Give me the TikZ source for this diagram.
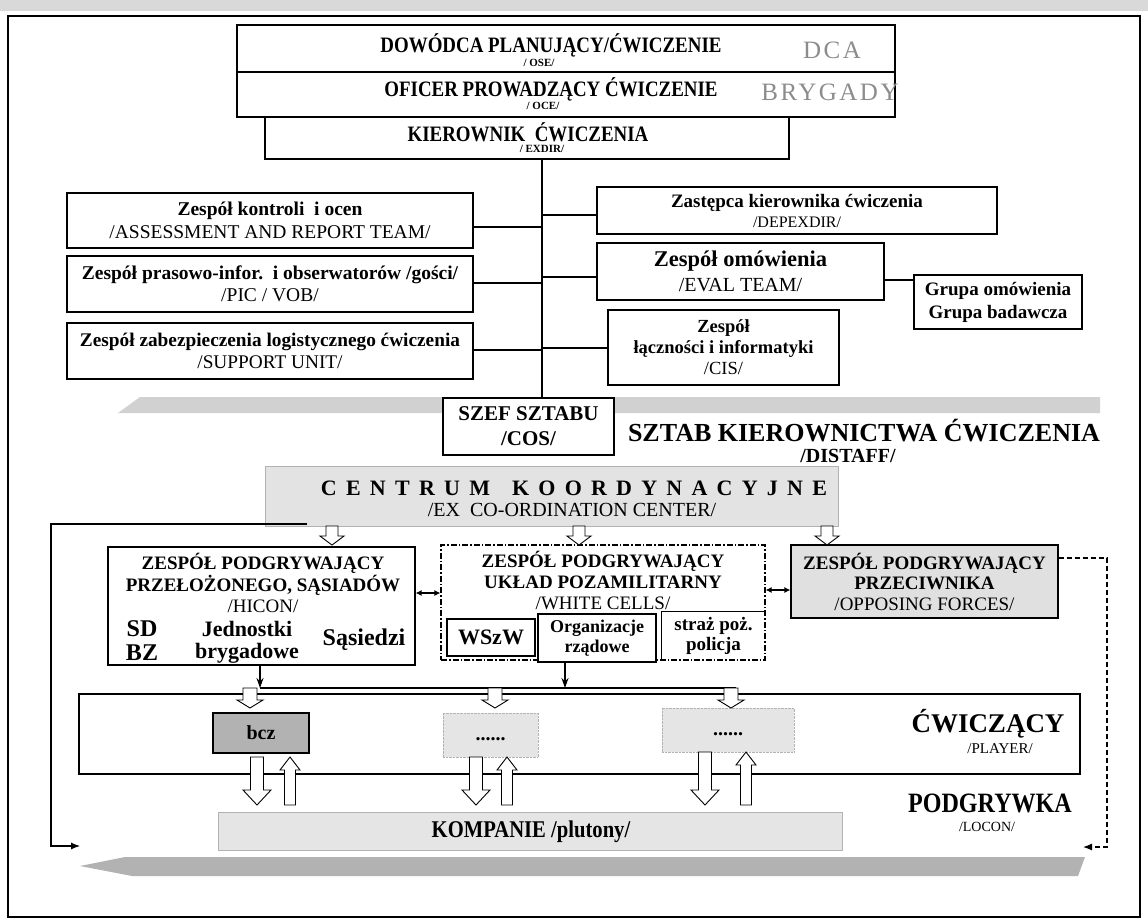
\documentclass[tikz,border=0pt]{standalone}
\usepackage{fontspec}
\setmainfont{Liberation Serif}
\newfontfamily\cnd[FakeStretch=0.86]{Liberation Serif}
\usetikzlibrary{arrows.meta,calc}
\newcommand\fs[2]{\fontsize{#1}{#2}\selectfont}
\begin{document}
\begin{tikzpicture}[x=1pt,y=-1pt,
  box/.style={draw, line width=1.1pt, inner sep=0pt, align=center, fill=white},
  txt/.style={inner sep=0pt, align=center},
  conn/.style={line width=2.6pt},
  thinline/.style={line width=1.1pt},
  dashdot/.style={line width=1.1pt, dash pattern=on 6pt off 2pt on 1.5pt off 2pt},
  ghost/.style={txt, text=black!45},
  pics/blk/.style n args={4}{code={%
    \draw[line width=0.9pt, fill=white, line join=miter]
      (-#2,0) -- (-#2,{#1-#4}) -- (-#3,{#1-#4}) -- (0,#1) -- (#3,{#1-#4})
      -- (#2,{#1-#4}) -- (#2,0) -- cycle;}}
]
\useasboundingbox (0,0) rectangle (1148,921);
\fill[white] (0,0) rectangle (1148,921);
% scanned margin strip and frame
\fill[black!15] (0,0) rectangle (1148,11);
\draw[line width=1.2pt] (8,16) rectangle (1140,917);

% ---------- command chain ----------
\node[box, minimum width=658pt, minimum height=47pt] (dow) at (566,48.5) {};
\node[box, minimum width=658pt, minimum height=45pt] (ofi) at (566,94.5) {};
\node[box, minimum width=524pt, minimum height=42pt] (kier) at (527,138) {};
\node[txt] (dowT) at (551,45) {\cnd\bfseries\fs{22}{22}DOWÓDCA PLANUJĄCY/ĆWICZENIE};
\node[txt] (oseT) at (539,63) {\bfseries\fs{11}{11}/ OSE/};
\node[ghost] (dca) at (832,50) {\fs{25}{25}\addfontfeature{LetterSpace=10}DCA};
\node[txt] (ofiT) at (551,89) {\cnd\bfseries\fs{22}{22}OFICER PROWADZĄCY ĆWICZENIE};
\node[txt] (oceT) at (543,106) {\bfseries\fs{11}{11}/ OCE/};
\node[ghost] (bryg) at (830,92) {\fs{25}{25}\addfontfeature{LetterSpace=10}BRYGADY};
\node[txt] (kierT) at (528,132) {\cnd\bfseries\fs{22}{22}KIEROWNIK\ \ ĆWICZENIA};
\node[txt] (exdT) at (542,149) {\bfseries\fs{11}{11}/ EXDIR/};

% ---------- staff cells ----------
\node[box, minimum width=406pt, minimum height=55pt, font=\fs{19.5}{23}] (L1) at (270,220.5)
  {\bfseries Zespół kontroli\ \ i ocen\\ /ASSESSMENT AND REPORT TEAM/};
\node[box, minimum width=406pt, minimum height=56pt, font=\fs{19.5}{22}] (L2) at (270,284)
  {\bfseries Zespół prasowo-infor.\ \ i obserwatorów /gości/\\ /PIC / VOB/};
\node[box, minimum width=406pt, minimum height=56pt, font=\fs{19.3}{22}] (L3) at (270,351)
  {\bfseries Zespół zabezpieczenia logistycznego ćwiczenia\\ /SUPPORT UNIT/};
\node[box, minimum width=400pt, minimum height=47pt, font=\fs{19}{20}] (R1) at (797,210.5)
  {\bfseries Zastępca kierownika ćwiczenia\\ {\fs{16}{20}/DEPEXDIR/}};
\node[box, minimum width=287pt, minimum height=57pt, font=\fs{22.5}{25}] (R2) at (740.5,271.5)
  {\bfseries Zespół omówienia\\ {\fs{20}{25}/EVAL TEAM/}};
\node[box, minimum width=168pt, minimum height=54pt, font=\fs{19}{23}\bfseries] (grp) at (998,302)
  {Grupa omówienia\\Grupa badawcza};
\node[box, minimum width=231pt, minimum height=75pt, font=\fs{18.5}{21}] (R3) at (723.5,347.5)
  {\bfseries Zespół\\ \bfseries łączności i informatyki\\ /CIS/};

% staff band behind the chief of staff
\fill[black!18] (118,413) -- (140,397) -- (1100,397) -- (1100,413) -- cycle;

\node[box, minimum width=171pt, minimum height=57pt, font=\fs{21}{25}\bfseries] (szef) at (528.5,426.5)
  {SZEF SZTABU\\/COS/};

% trunk and branches
\coordinate (tr) at (542,0);
\draw[conn] (kier.south -| tr) -- (szef.north -| tr);
\path ($(L1.east)+(0,6.5)$) coordinate (l1c)
      ($(L2.east)+(0,-1)$) coordinate (l2c)
      ($(L3.east)+(0,-1)$) coordinate (l3c)
      ($(R1.west)+(0,4.5)$) coordinate (r1c)
      ($(R2.west)+(0,5.5)$) coordinate (r2c)
      ($(R3.west)+(0,0.5)$) coordinate (r3c)
      ($(R2.east)+(0,8.5)$) coordinate (r2g);
\draw[conn] (l1c) -- (l1c -| tr);
\draw[conn] (l2c) -- (l2c -| tr);
\draw[conn] (l3c) -- (l3c -| tr);
\draw[conn] (r1c) -- (r1c -| tr);
\draw[conn] (r2c) -- (r2c -| tr);
\draw[conn] (r3c) -- (r3c -| tr);
\draw[thinline] (r2g) -- (r2g -| grp.west);

% ---------- coordination centre ----------
\node[draw=black!30, fill=black!11, inner sep=0pt, minimum width=573pt, minimum height=60pt] (centrum) at (551.5,496) {};
\node[txt] (centT) at (574,488) {\bfseries\fs{22}{22}\addfontfeature{LetterSpace=42}CENTRUM\hspace{22pt}KOORDYNACYJNE};
\node[txt] (exT) at (572,510) {\fs{20}{20}/EX\ \ CO-ORDINATION CENTER/};

\node[txt] (sztab) at (864,431) {\bfseries\fs{26}{26}SZTAB KIEROWNICTWA ĆWICZENIA};
\node[txt] (distaff) at (848,456) {\bfseries\fs{20}{20}/DISTAFF/};

% ---------- response cells ----------
\node[box, minimum width=307pt, minimum height=118pt] (hicon) at (261.5,606) {};
\node[txt, font=\fs{19}{21.5}] (hiconT) at (263,583)
  {\bfseries ZESPÓŁ PODGRYWAJĄCY\\ \bfseries PRZEŁOŻONEGO, SĄSIADÓW\\ /HICON/};
\node[txt, font=\fs{24}{24}\bfseries] (sdbz) at (142,641) {SD\\BZ};
\node[txt, font=\fs{22}{22}\bfseries] (jedn) at (247,642) {Jednostki\\brygadowe};
\node[txt, font=\fs{24}{24}\bfseries] (sas) at (364,640) {Sąsiedzi};

\node[draw, dashdot, fill=white, inner sep=0pt, minimum width=324pt, minimum height=115pt] (wc) at (603,602.5) {};
\node[txt, font=\fs{19}{21}] (wcT) at (603,580)
  {\bfseries ZESPÓŁ PODGRYWAJĄCY\\ \bfseries UKŁAD POZAMILITARNY\\ /WHITE CELLS/};
\node[box, minimum width=88pt, minimum height=37pt, font=\fs{22}{22}\bfseries] (wszw) at (491,637.5) {WSzW};
\node[box, minimum width=118pt, minimum height=48pt, font=\fs{18}{20}\bfseries] (org) at (597,638) {Organizacje\\rządowe};
\node[txt, minimum width=103pt, minimum height=48pt, font=\fs{19}{20}\bfseries] (straz) at (713.5,636) {straż poż.\\policja};
\draw[thinline] (straz.south west) |- (straz.north east);

\node[box, fill=black!12, minimum width=267pt, minimum height=73pt, font=\fs{19}{20.5}] (prz) at (924.5,581.5)
  {\bfseries ZESPÓŁ PODGRYWAJĄCY\\ \bfseries PRZECIWNIKA\\ /OPPOSING FORCES/};

% links between the response cells
\path ($(hicon.east)+(0,-13)$) coordinate (hw)
      ($(wc.east)+(0,-12.5)$) coordinate (wp);
\draw[line width=1.4pt, {Latex[length=6pt,width=6pt]}-{Latex[length=6pt,width=6pt]}] (hw) -- (hw -| wc.west);
\draw[line width=1.4pt, {Latex[length=6pt,width=6pt]}-{Latex[length=6pt,width=6pt]}] (wp) -- (wp -| prz.west);

% centre feeding the cells
\pic at (332,526) {blk={19}{6}{12}{9}};
\pic at (579,526) {blk={19}{6}{12}{9}};
\pic at (827,526) {blk={19}{6}{12}{9}};

% ---------- players ----------
\node[box, fill=none, minimum width=1001pt, minimum height=80pt] (player) at (579.5,734) {};
\node[txt] (playT) at (988,724) {\bfseries\fs{27}{27}ĆWICZĄCY};
\node[txt] (playE) at (1000,749) {\fs{15}{15}/PLAYER/};
\node[box, fill=black!30, minimum width=96pt, minimum height=40pt, font=\fs{20}{20}\bfseries] (bcz) at (261,733) {bcz};
\node[draw=black!30, densely dotted, fill=black!10, inner sep=0pt, minimum width=95pt, minimum height=44pt, font=\fs{20}{20}\bfseries] (u2) at (490.5,735) {\smash{\raisebox{-5pt}{......}}};
\node[draw=black!30, densely dotted, fill=black!10, inner sep=0pt, minimum width=132pt, minimum height=44pt, font=\fs{20}{20}\bfseries] (u3) at (728,730) {\smash{\raisebox{-5pt}{......}}};

\coordinate (jA) at (260,688);
\coordinate (jB) at (565,688);
\coordinate (jE) at (736,688);
\draw[thinline] (jA) -- (jE);
\draw[thinline, -{Stealth[length=10pt,width=7pt]}] (hicon.south -| jA) -- (jA);
\draw[thinline, -{Stealth[length=10pt,width=7pt]}] (org.south -| jB) -- (jB);
\pic at (250,688) {blk={20}{7}{13}{8}};
\pic at (495,688) {blk={20}{7}{13}{8}};
\pic at (731,688) {blk={20}{7}{13}{8}};

% ---------- local control ----------
\node[draw=black!30, fill=black!10, inner sep=0pt, minimum width=624pt, minimum height=38pt] (komp) at (530,831) {};
\node[txt] (kompT) at (531,832) {\cnd\bfseries\fs{24}{24}KOMPANIE /plutony/};
\node[txt] (podg) at (990,803) {\cnd\bfseries\fs{28}{28}PODGRYWKA};
\node[txt] (locon) at (987,827) {\fs{14}{14}/LOCON/};

\pic at (257,757) {blk={48}{6.5}{14}{15}};
\pic at (476,757) {blk={48}{6.5}{14}{15}};
\pic at (705,752) {blk={53}{6.5}{14}{15}};
\pic[rotate=180] at (290,805) {blk={48}{5.5}{10}{13}};
\pic[rotate=180] at (507,805) {blk={48}{5.5}{10}{13}};
\pic[rotate=180] at (746,805) {blk={53}{5.5}{10}{13}};

% training-area band
\fill[black!30] (80,866) -- (125,857) -- (1085,857) -- (1078,876) -- (132,876) -- cycle;

% feedback into the training area
\coordinate (cL) at (307,524);
\coordinate (bandL) at (80,846);
\coordinate (bandR) at (1083,847);
\draw[thinline, -{Latex[length=9pt,width=7pt]}] (cL) -- (51,524) |- (bandL);
\path ($(prz.east)+(0,-23.5)$) coordinate (pR);
\draw[line width=1.2pt, dash pattern=on 5pt off 3pt, -{Latex[length=9pt,width=7pt]}] (pR) -- (1107,558) |- (bandR);
\end{tikzpicture}
\end{document}
